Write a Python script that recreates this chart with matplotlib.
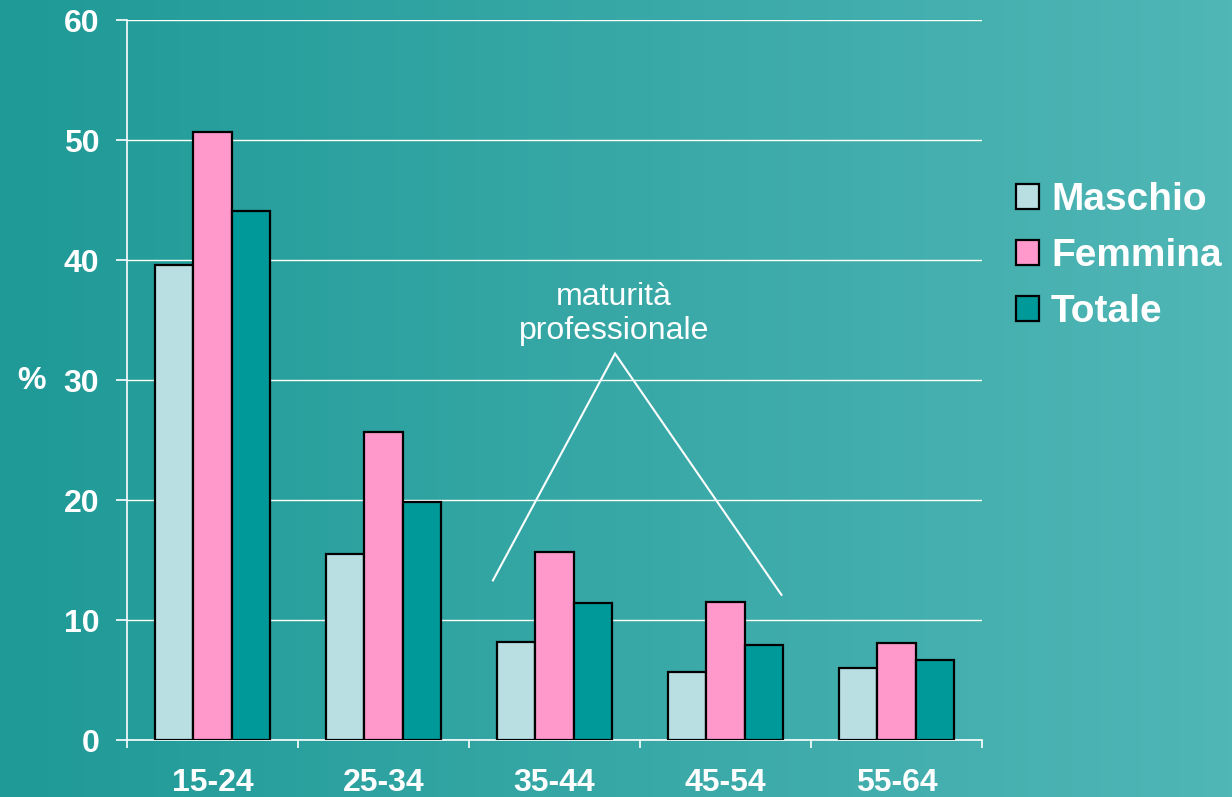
import numpy as np
import matplotlib
matplotlib.use("Agg")
import matplotlib.pyplot as plt
from matplotlib.patches import Patch
from matplotlib.colors import LinearSegmentedColormap

categories = ["15-24", "25-34", "35-44", "45-54", "55-64"]
maschio = [39.6, 15.5, 8.2, 5.7, 6.0]
femmina = [50.7, 25.7, 15.7, 11.5, 8.1]
totale = [44.1, 19.8, 11.4, 7.9, 6.7]
series_names = ["Maschio", "Femmina", "Totale"]
series_colors = ["#BADFE3", "#FF99CC", "#009999"]
y_ticks = [0, 10, 20, 30, 40, 50, 60]
annotation_text = "maturità\nprofessionale"

plt.rcParams['font.family'] = ['Liberation Sans', 'DejaVu Sans']

W, H = 1232, 797
fig = plt.figure(figsize=(W / 100, H / 100), dpi=100)

# background gradient
bg = fig.add_axes([0, 0, 1, 1], zorder=-10)
cmap = LinearSegmentedColormap.from_list("bg", ["#1F9A97", "#50B6B6"])
grad = np.linspace(0, 1, 256).reshape(1, -1)
bg.imshow(grad, aspect='auto', cmap=cmap, extent=[0, 1, 0, 1])
bg.axis('off')

left, right = 127 / W, 982 / W
bottom, top = 1 - 740 / H, 1 - 20 / H
ax = fig.add_axes([left, bottom, right - left, top - bottom])
ax.set_facecolor('none')

x = np.arange(len(categories))
bw = 0.225
data = [maschio, femmina, totale]
for i, (vals, name, col) in enumerate(zip(data, series_names, series_colors)):
    ax.bar(x + (i - 1) * bw, vals, width=bw, color=col, edgecolor='black',
           linewidth=1.6, label=name, zorder=3)

ax.set_xlim(-0.5, len(categories) - 0.5)
ax.set_ylim(0, 60)
ax.set_yticks(y_ticks)
ax.set_yticklabels([str(t) for t in y_ticks], fontsize=23, fontweight='bold', color='white')
ax.yaxis.grid(True, color='white', linewidth=1.0, zorder=0)
ax.set_axisbelow(True)

ax.set_xticks(x)
ax.set_xticklabels(categories, fontsize=23, fontweight='bold', color='white')
ax.tick_params(axis='x', which='major', length=0, pad=20)
ax.set_xticks(np.arange(len(categories) + 1) - 0.5, minor=True)
ax.tick_params(axis='x', which='minor', length=6, width=1.2, color='white', direction='out')
ax.tick_params(axis='y', length=8, width=1.2, color='white', direction='out', pad=12)

for s in ['top', 'right']:
    ax.spines[s].set_visible(False)
for s in ['left', 'bottom']:
    ax.spines[s].set_color('white')
    ax.spines[s].set_linewidth(1.2)

fig.text(31 / W, 1 - 381 / H, "%", fontsize=23, fontweight='bold', color='white',
         ha='center', va='center')

# annotation triangle
ax.plot([1.64, 2.354, 3.327], [13.3, 32.2, 12.1], color='white', linewidth=1.5, zorder=4,
        solid_joinstyle='miter')
ax.text(2.348, 35.5, annotation_text, fontsize=23, color='white', ha='center', va='center',
        linespacing=1.2)

handles = [Patch(facecolor=c, edgecolor='black', linewidth=1.6) for c in series_colors]
leg = fig.legend(handles, series_names, loc='upper left',
                 bbox_to_anchor=(1016 / W, 1 - 182 / H), frameon=False,
                 prop={'size': 28, 'weight': 'bold'}, labelcolor='white',
                 handlelength=0.6, handleheight=0.6, handletextpad=0.3,
                 labelspacing=0.52, borderaxespad=0, borderpad=0)

fig.savefig("out.png", dpi=100)
